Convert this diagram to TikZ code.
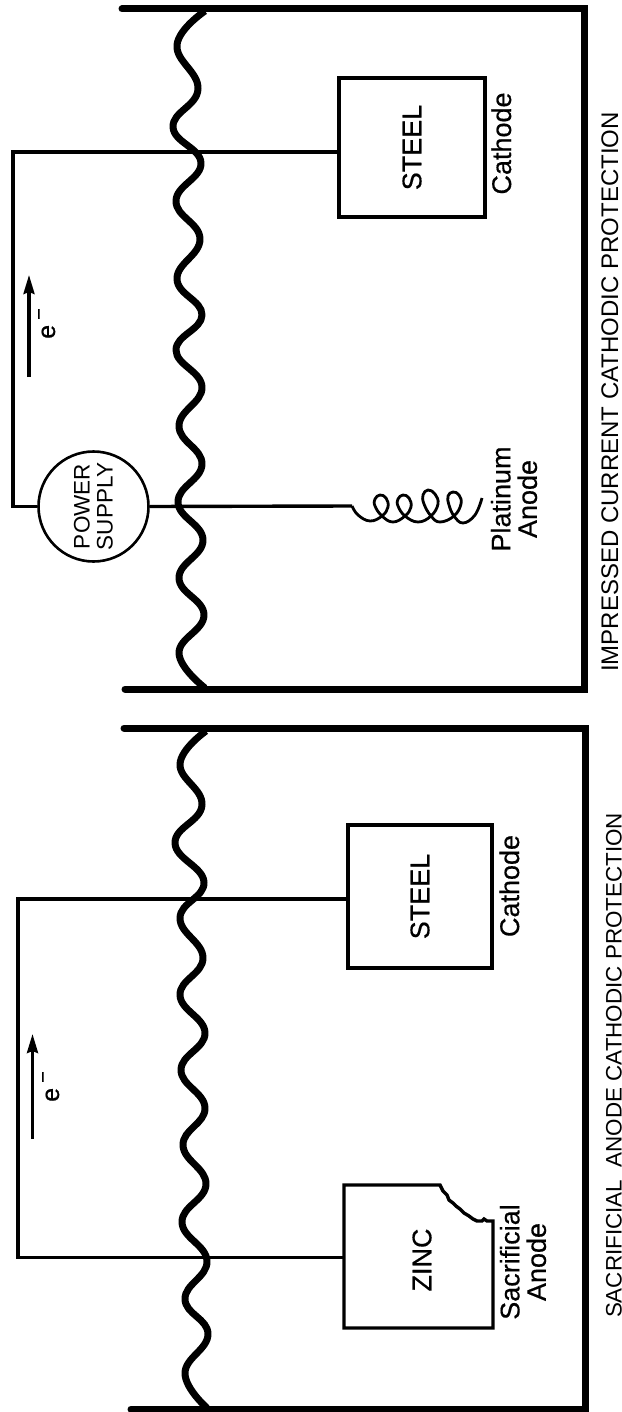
\documentclass[tikz,border=0pt]{standalone}
\usepackage{fontspec}
\setmainfont{Liberation Sans}
\newfontfamily\heavyfont{Liberation Sans}[FakeBold=0.5]
\usetikzlibrary{arrows.meta}
\newcommand{\fsz}[1]{\fontsize{#1}{#1}\selectfont}
\tikzset{
  wall/.style={line width=7pt,line cap=round,line join=miter},
  wavy/.style={line width=7pt,line join=round,line cap=butt},
  wire/.style={line width=3.4pt,line join=miter},
  boxshape/.style={draw,line width=3.4pt,inner sep=0pt,fill=none},
  flow/.style={line width=3.2pt,-{Stealth[length=19pt,width=11pt,inset=2pt]}},
  lab/.style={inner sep=0pt,rotate=90,anchor=base,font=\heavyfont\fsz{27}},
  twolab/.style={inner sep=0pt,rotate=90,anchor=center,align=center,font=\heavyfont\fontsize{27}{26.5}\selectfont},
  captext/.style={inner sep=0pt,rotate=90,anchor=base},
}
\begin{document}
\begin{tikzpicture}[x=1pt,y=-1pt]
\useasboundingbox (0,0) rectangle (621,1412);
\fill[white] (0,0) rectangle (621,1412);

% ---------- upper panel: impressed current ----------
\draw[wall] (122,9) -- (584,9) -- (584,689) -- (125,689);
\draw[wavy] plot[smooth,tension=0.75] coordinates {(205,11) (177,45) (198,89) (173,127) (201,163) (176,201) (200,239) (177,279) (202,315) (176,350) (202,387) (179,426) (202,464) (178,502) (203,540) (179,578) (204,615) (179,653) (205,688)};

\node[boxshape,minimum width=146pt,minimum height=139pt] (steelU) at (412,147.5) {\rotatebox{90}{\raisebox{-2.5pt}{\heavyfont\fsz{27}STEEL}}};
\node[lab] (cathU) at (511,143.5) {Cathode};
\node[draw,circle,line width=2.6pt,minimum size=110pt,inner sep=0pt] (psu) at (93.5,506.5) {\rotatebox{90}{\parbox{90pt}{\fontsize{22.5}{23}\selectfont\centering POWER\\SUPPLY}}};
\coordinate (steelUw) at (339,152);
\coordinate (coilU) at (352,506);
\draw[wire] (steelUw) -- (13,152) -- (13,506.5) -- (psu.west);
\draw[wire] (psu.east) -- (coilU);
\draw[line width=2.8pt,line join=round] plot[smooth,tension=0.7] coordinates {(coilU) (358,515) (370,521) (382,516) (388,507) (386,498) (380,495) (375,499) (375,506) (382,516) (393,522) (405,516) (411,507) (409,498) (403,495) (398,499) (398,506) (405,516) (418,522) (431,516) (438,504) (435,494) (428,490) (423,495) (424,504) (431,516) (440,522) (454,516) (461,504) (459,495) (453,492) (448,496) (449,505) (454,516) (463,523) (475,515) (482,498)};
\node[twolab] (platanode) at (514,499) {Platinum\\Anode};
\coordinate (arrUa) at (29,377);
\coordinate (arrUb) at (29,275);
\draw[flow] (arrUa) -- (arrUb);
\node[captext] (eU) at (55,323.5) {\heavyfont\fsz{25}e\kern5pt\raisebox{9.5pt}{\fsz{20}−}};
\node[captext] (capU) at (618,392) {\fsz{24}IMPRESSED CURRENT CATHODIC PROTECTION};

% ---------- lower panel: sacrificial anode ----------
\draw[wall] (124,728) -- (585,728) -- (585,1409) -- (131,1409);
\draw[wavy] plot[smooth,tension=0.75] coordinates {(206,731) (180,764) (202,805) (175,843) (204,882) (180,918) (203,958) (180,995) (205,1033) (181,1070) (205,1108) (183,1145) (206,1184) (182,1222) (207,1261) (185,1299) (208,1334) (185,1373) (207,1408)};

\node[boxshape,minimum width=144pt,minimum height=143pt] (steelL) at (420,896.5) {\rotatebox{90}{\heavyfont\fsz{27}STEEL}};
\node[lab] (cathL) at (519,886) {Cathode};
\draw[line width=3.4pt,line join=miter] (344,1185) -- (440,1185) -- (443,1191) -- (447,1195) -- (449,1200) -- (453,1203) -- (456,1206) -- (460,1209) -- (464,1213) -- (469,1216) -- (473,1219) -- (477,1221) -- (482,1221) -- (484,1219) -- (487,1221) -- (493,1221) -- (493,1328) -- (344,1328) -- cycle;
\node[inner sep=0pt] (zinc) at (422,1260) {\rotatebox{90}{\heavyfont\fsz{27}ZINC}};
\node[twolab] (sacanode) at (523,1262) {Sacrificial\\Anode};
\coordinate (steelLw) at (348,899);
\coordinate (zincw) at (344,1257.5);
\draw[wire] (steelLw) -- (18,899) -- (18,1257.5) -- (zincw);
\coordinate (arrLa) at (32.5,1139);
\coordinate (arrLb) at (32.5,1034);
\draw[flow] (arrLa) -- (arrLb);
\node[captext] (eL) at (59,1086.5) {\heavyfont\fsz{25}e\kern5pt\raisebox{9.5pt}{\fsz{20}−}};
\node[captext] (capL) at (621.5,1065.5) {\fsz{22.4}SACRIFICIAL\ \ ANODE CATHODIC PROTECTION};
\end{tikzpicture}
\end{document}
